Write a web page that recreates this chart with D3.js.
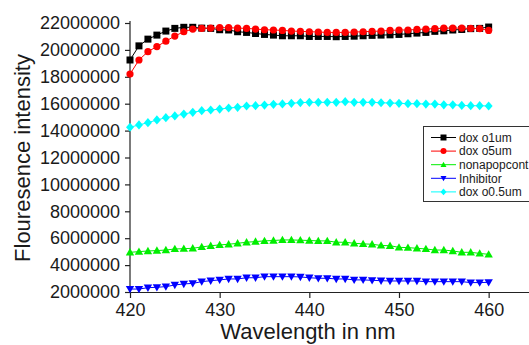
<!DOCTYPE html>
<html>
<head>
<meta charset="utf-8">
<script src="https://cdn.jsdelivr.net/npm/d3@7/dist/d3.min.js"></script>
<style>
  html, body { margin: 0; padding: 0; background: #fff; }
  svg { display: block; font-family: "Liberation Sans", Arial, sans-serif; }
</style>
</head>
<body>
<svg id="chart" width="529" height="345"></svg>
<script>
// Emission wavelengths (nm)
const wavelengths = [420,421,422,423,424,425,426,427,428,429,430,431,432,433,434,435,436,437,438,439,440,
                     441,442,443,444,445,446,447,448,449,450,451,452,453,454,455,456,457,458,459,460];

// Fluorescence intensity per sample
const doxO1um = [19.25e6,20.3e6,20.8e6,21.1e6,21.4e6,21.6e6,21.68e6,21.68e6,21.62e6,21.6e6,21.5e6,
                 21.48e6,21.35e6,21.3e6,21.22e6,21.15e6,21.1e6,21.05e6,21.05e6,21.05e6,21.0e6,
                 21.0e6,21.0e6,20.98e6,21.0e6,21.02e6,21.05e6,21.08e6,21.1e6,21.12e6,21.15e6,
                 21.2e6,21.25e6,21.3e6,21.38e6,21.42e6,21.48e6,21.52e6,21.58e6,21.6e6,21.7e6];
const doxO5um = [18.2e6,19.25e6,19.87e6,20.25e6,20.65e6,21.03e6,21.35e6,21.55e6,21.6e6,21.62e6,21.65e6,
                 21.65e6,21.62e6,21.6e6,21.55e6,21.5e6,21.48e6,21.45e6,21.4e6,21.38e6,21.35e6,
                 21.33e6,21.3e6,21.3e6,21.3e6,21.33e6,21.35e6,21.38e6,21.4e6,21.45e6,21.48e6,
                 21.48e6,21.52e6,21.55e6,21.58e6,21.62e6,21.62e6,21.62e6,21.6e6,21.58e6,21.45e6];
const nonapopcont = [4.95e6,5.0e6,5.05e6,5.08e6,5.12e6,5.2e6,5.22e6,5.25e6,5.35e6,5.44e6,5.5e6,
                     5.55e6,5.62e6,5.7e6,5.75e6,5.8e6,5.83e6,5.87e6,5.87e6,5.85e6,5.83e6,
                     5.8e6,5.8e6,5.7e6,5.7e6,5.62e6,5.58e6,5.55e6,5.46e6,5.44e6,5.32e6,
                     5.3e6,5.25e6,5.2e6,5.12e6,5.12e6,5.05e6,4.95e6,4.95e6,4.87e6,4.8e6];
const inhibitor = [2.22e6,2.22e6,2.32e6,2.35e6,2.4e6,2.52e6,2.6e6,2.64e6,2.77e6,2.84e6,2.9e6,
                   2.97e6,2.97e6,3.06e6,3.06e6,3.14e6,3.14e6,3.14e6,3.14e6,3.12e6,3.06e6,
                   3.02e6,3.02e6,2.97e6,2.97e6,2.9e6,2.9e6,2.87e6,2.84e6,2.82e6,2.82e6,
                   2.82e6,2.82e6,2.77e6,2.77e6,2.77e6,2.77e6,2.77e6,2.7e6,2.7e6,2.72e6];
const doxO05um = [14.25e6,14.42e6,14.59e6,14.79e6,14.96e6,15.09e6,15.23e6,15.36e6,15.48e6,15.53e6,15.6e6,
                  15.68e6,15.73e6,15.83e6,15.85e6,15.9e6,15.95e6,15.98e6,16.03e6,16.08e6,16.1e6,
                  16.1e6,16.1e6,16.1e6,16.15e6,16.1e6,16.1e6,16.1e6,16.07e6,16.05e6,16.03e6,
                  16.0e6,16.0e6,15.97e6,15.97e6,15.92e6,15.92e6,15.87e6,15.85e6,15.85e6,15.83e6];

const seriesNames = ["dox o1um", "dox o5um", "nonapopcont", "Inhibitor", "dox o0.5um"];
const seriesValues = [doxO1um, doxO5um, nonapopcont, inhibitor, doxO05um];

// Axis ticks
const xTicks = [420, 430, 440, 450, 460];
const xMinorTicks = [425, 435, 445, 455];
const yTicks = [2000000, 4000000, 6000000, 8000000, 10000000, 12000000,
                14000000, 16000000, 18000000, 20000000, 22000000];
const yMinorTicks = [3000000, 5000000, 7000000, 9000000, 11000000, 13000000,
                     15000000, 17000000, 19000000, 21000000];

const colors = ["#000000", "#ff0000", "#00ee00", "#0000ff", "#00ffff"];
const shapes = ["square", "circle", "triangleUp", "triangleDown", "diamond"];

const svg = d3.select("#chart");

const x = d3.scaleLinear().domain([420, 464.5]).range([130, 529]);
const y = d3.scaleLinear().domain([2000000, 22000000]).range([292, 23]);

// Marker path generator, r is the half-width of the marker
function markerPath(shape, r) {
  const p = d3.path();
  if (shape === "square") {
    p.rect(-r, -r, 2 * r, 2 * r);
  } else if (shape === "circle") {
    p.moveTo(r, 0); p.arc(0, 0, r, 0, 2 * Math.PI);
  } else if (shape === "triangleUp") {
    p.moveTo(0, -r); p.lineTo(r, r * 0.75); p.lineTo(-r, r * 0.75); p.closePath();
  } else if (shape === "triangleDown") {
    p.moveTo(0, r); p.lineTo(r, -r * 0.75); p.lineTo(-r, -r * 0.75); p.closePath();
  } else if (shape === "diamond") {
    p.moveTo(0, -r * 1.15); p.lineTo(r, 0); p.lineTo(0, r * 1.15); p.lineTo(-r, 0); p.closePath();
  }
  return p.toString();
}

// Axes
const axisColor = "#222";
const fontColor = "#1a1a1a";

const gx = svg.append("g").attr("transform", "translate(0,292)");
gx.call(d3.axisBottom(x).tickValues(xMinorTicks).tickSize(3).tickSizeOuter(0).tickFormat(""));
gx.call(d3.axisBottom(x).tickValues(xTicks).tickSize(6).tickSizeOuter(0).tickPadding(5).tickFormat(d3.format("d")));
gx.selectAll("text").attr("font-size", 18).attr("fill", fontColor).attr("font-family", "Liberation Sans, Arial, sans-serif");
gx.selectAll("line, path").attr("stroke", axisColor).attr("stroke-width", 1.2);

const gy = svg.append("g").attr("transform", "translate(130,0)");
gy.call(d3.axisLeft(y).tickValues(yMinorTicks).tickSize(3).tickSizeOuter(0).tickFormat(""));
gy.call(d3.axisLeft(y).tickValues(yTicks).tickSize(5).tickSizeOuter(0).tickPadding(5).tickFormat(d3.format("d")));
gy.selectAll("text").attr("font-size", 18).attr("fill", fontColor).attr("font-family", "Liberation Sans, Arial, sans-serif");
gy.selectAll("line, path").attr("stroke", axisColor).attr("stroke-width", 1.2);
gy.select("path.domain").attr("d", "M0," + y(2000000) + "V21");

// Axis titles
svg.append("text")
  .attr("x", 308).attr("y", 339)
  .attr("text-anchor", "middle")
  .attr("font-size", 22).attr("fill", fontColor)
  .text("Wavelength in nm");

svg.append("text")
  .attr("transform", "translate(30,158) rotate(-90)")
  .attr("text-anchor", "middle")
  .attr("font-size", 22).attr("fill", fontColor)
  .text("Flouresence intensity");

// Series: connecting line plus markers
const line = d3.line().x((d, i) => x(wavelengths[i])).y(d => y(d));
const markerR = [3.5, 3.6, 4.2, 4.2, 4.0];

seriesValues.forEach((vals, k) => {
  const g = svg.append("g");
  g.append("path")
    .attr("d", line(vals))
    .attr("fill", "none")
    .attr("stroke", colors[k])
    .attr("stroke-width", 1);
  g.selectAll("path.m")
    .data(vals)
    .join("path")
    .attr("class", "m")
    .attr("transform", (d, i) => `translate(${x(wavelengths[i])},${y(d)})`)
    .attr("d", markerPath(shapes[k], markerR[k]))
    .attr("fill", colors[k]);
});

// Legend
const legend = svg.append("g");
legend.append("rect")
  .attr("x", 423.5).attr("y", 126.5)
  .attr("width", 130).attr("height", 75)
  .attr("fill", "#fff").attr("stroke", "#333").attr("stroke-width", 1);

seriesNames.forEach((name, k) => {
  const ly = 137.5 + k * 13.6;
  legend.append("line")
    .attr("x1", 431).attr("x2", 456).attr("y1", ly).attr("y2", ly)
    .attr("stroke", colors[k]).attr("stroke-width", 1);
  legend.append("path")
    .attr("transform", `translate(443.5,${ly})`)
    .attr("d", markerPath(shapes[k], 3))
    .attr("fill", colors[k]);
  legend.append("text")
    .attr("x", 459).attr("y", ly).attr("dy", "0.35em")
    .attr("font-size", 12).attr("fill", fontColor)
    .text(name);
});
</script>
</body>
</html>
